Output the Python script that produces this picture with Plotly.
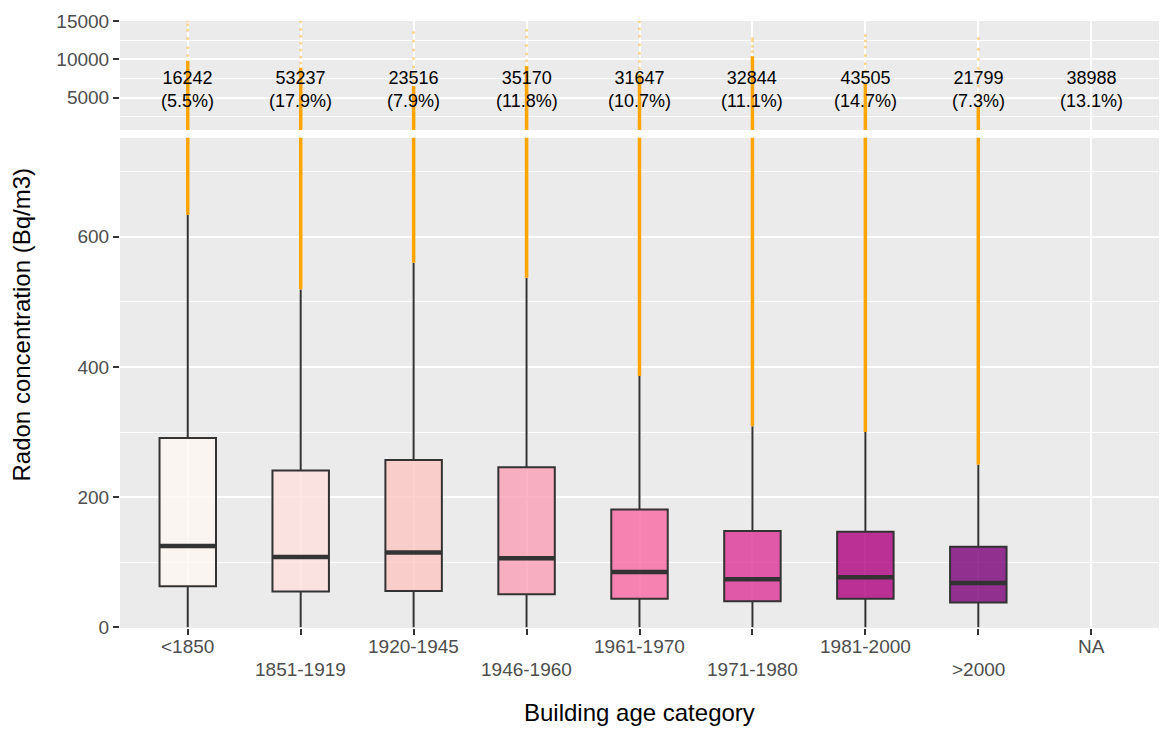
import plotly.graph_objects as go
from plotly.subplots import make_subplots

# building age categories (NA has no measurements drawn)
categories = ['<1850', '1851-1919', '1920-1945', '1946-1960', '1961-1970',
              '1971-1980', '1981-2000', '>2000', 'NA']
counts = [16242, 53237, 23516, 35170, 31647, 32844, 43505, 21799, 38988]

# box statistics (Bq/m3)
q1 = [63, 55, 56, 51, 44, 40, 44, 38]
median = [125, 108, 115, 106, 85, 74, 77, 68]
q3 = [291, 241, 257, 246, 181, 148, 147, 124]
lower_whisker = [0, 0, 0, 0, 0, 0, 0, 0]
upper_whisker = [634, 519, 560, 537, 386, 309, 300, 250]

# outliers: dense run from the whisker up to dense_top, then sparse points
dense_top = [9800, 8900, 6500, 9100, 8000, 10400, 6900, 3800]
sparse_outliers = [
    [10500, 11500, 12700, 13800, 14500, 15000],
    [9500, 10300, 11200, 12100, 13000, 13900, 14900],
    [7200, 8100, 9000, 10100, 11200, 12400, 13500],
    [9800, 10700, 11800, 12900, 13800],
    [8800, 9700, 10800, 11900, 13000, 14000, 14900],
    [11000, 11700, 12400, 12700],
    [7600, 8500, 9400, 10500, 11600, 12400, 13100],
    [4500, 5400, 6500, 7600, 8800, 10000, 11300, 12700],
]

top_ticks = [5000, 10000, 15000]
bottom_ticks = [0, 200, 400, 600]

palette = ['#FFF7F3', '#FDE0DD', '#FCC5C0', '#FA9FB5', '#F768A1',
           '#DD3497', '#AE017E', '#7A0177']

total = sum(counts)
labels = ['%d<br>(%.1f%%)' % (c, 100.0 * c / total) for c in counts]


def rgba(hex_col, a):
    h = hex_col.lstrip('#')
    return 'rgba(%d,%d,%d,%s)' % (int(h[0:2], 16), int(h[2:4], 16), int(h[4:6], 16), a)


dark = '#333333'
orange = '#FFA500'
box_w = 0.5

fig = make_subplots(rows=2, cols=1, shared_xaxes=True)

for i in range(len(q1)):
    # orange outlier strip, in both panels
    for row in (1, 2):
        fig.add_trace(go.Scatter(
            x=[i, i], y=[upper_whisker[i], dense_top[i]],
            mode='lines', line=dict(color=orange, width=3.5),
            hoverinfo='skip', showlegend=False), row=row, col=1)
    fig.add_trace(go.Scatter(
        x=[i] * len(sparse_outliers[i]), y=sparse_outliers[i],
        mode='markers', marker=dict(color=orange, size=3, opacity=0.45),
        hoverinfo='skip', showlegend=False), row=1, col=1)

    fig.add_trace(go.Box(
        x=[i], q1=[q1[i]], median=[median[i]], q3=[q3[i]],
        lowerfence=[lower_whisker[i]], upperfence=[upper_whisker[i]],
        width=box_w, whiskerwidth=0, boxpoints=False,
        fillcolor=rgba(palette[i], 0.8),
        line=dict(color=dark, width=2),
        name=categories[i], showlegend=False), row=2, col=1)

    fig.add_trace(go.Scatter(
        x=[i - box_w / 2, i + box_w / 2], y=[median[i], median[i]],
        mode='lines', line=dict(color=dark, width=4.5),
        hoverinfo='skip', showlegend=False), row=2, col=1)

# counts above each category in the top panel
for i, lab in enumerate(labels):
    fig.add_annotation(x=i, y=6100, xref='x', yref='y', text=lab,
                       showarrow=False, yanchor='middle',
                       font=dict(size=18, color='black'))

# dodged x tick labels
for i, cat in enumerate(categories):
    fig.add_annotation(x=i, y=0, xref='x2', yref='paper', text=cat,
                       showarrow=False, yanchor='middle',
                       yshift=-18 if i % 2 == 0 else -41,
                       font=dict(size=19, color='#4D4D4D'))

fig.add_annotation(x=0.5, y=0, xref='paper', yref='paper',
                   text='Building age category', showarrow=False,
                   yanchor='middle', yshift=-84,
                   font=dict(size=24, color='black'))
fig.add_annotation(x=0, y=0.5, xref='paper', yref='paper',
                   text='Radon concentration (Bq/m3)', showarrow=False,
                   textangle=-90, xanchor='center', xshift=-99,
                   font=dict(size=24, color='black'))

grid = dict(showgrid=True, gridcolor='white', gridwidth=1.8, zeroline=False,
            showline=False)
fig.update_xaxes(range=[-0.6, 8.6], tickvals=list(range(len(categories))),
                 showticklabels=False, **grid)
fig.update_xaxes(ticks='outside', ticklen=6, tickwidth=1.5, tickcolor=dark,
                 row=2, col=1)
fig.update_xaxes(ticks='', row=1, col=1)

ytick = dict(ticks='outside', ticklen=6, tickwidth=1.5, tickcolor=dark,
             tickfont=dict(size=19, color='#4D4D4D'))
fig.update_yaxes(range=[765, 15000], tickvals=top_ticks,
                 ticktext=[str(v) for v in top_ticks],
                 minor=dict(tickvals=[2500, 7500, 12500], showgrid=True,
                            gridcolor='white', gridwidth=0.9),
                 domain=[0.8206, 1.0], row=1, col=1, **grid, **ytick)
fig.update_yaxes(range=[-1, 752], tickvals=bottom_ticks,
                 ticktext=[str(v) for v in bottom_ticks],
                 minor=dict(tickvals=[100, 300, 500, 700], showgrid=True,
                            gridcolor='white', gridwidth=0.9),
                 domain=[0.0, 0.8075], row=2, col=1, **grid, **ytick)

fig.update_layout(
    width=1170, height=730,
    margin=dict(l=120, r=11, t=15, b=102),
    plot_bgcolor='#EBEBEB', paper_bgcolor='white',
    boxmode='overlay',
    font=dict(family='Liberation Sans, Arial, sans-serif'),
)

fig.write_html('out.html', config={'displayModeBar': False},
               post_script="document.body.style.margin='0';")
